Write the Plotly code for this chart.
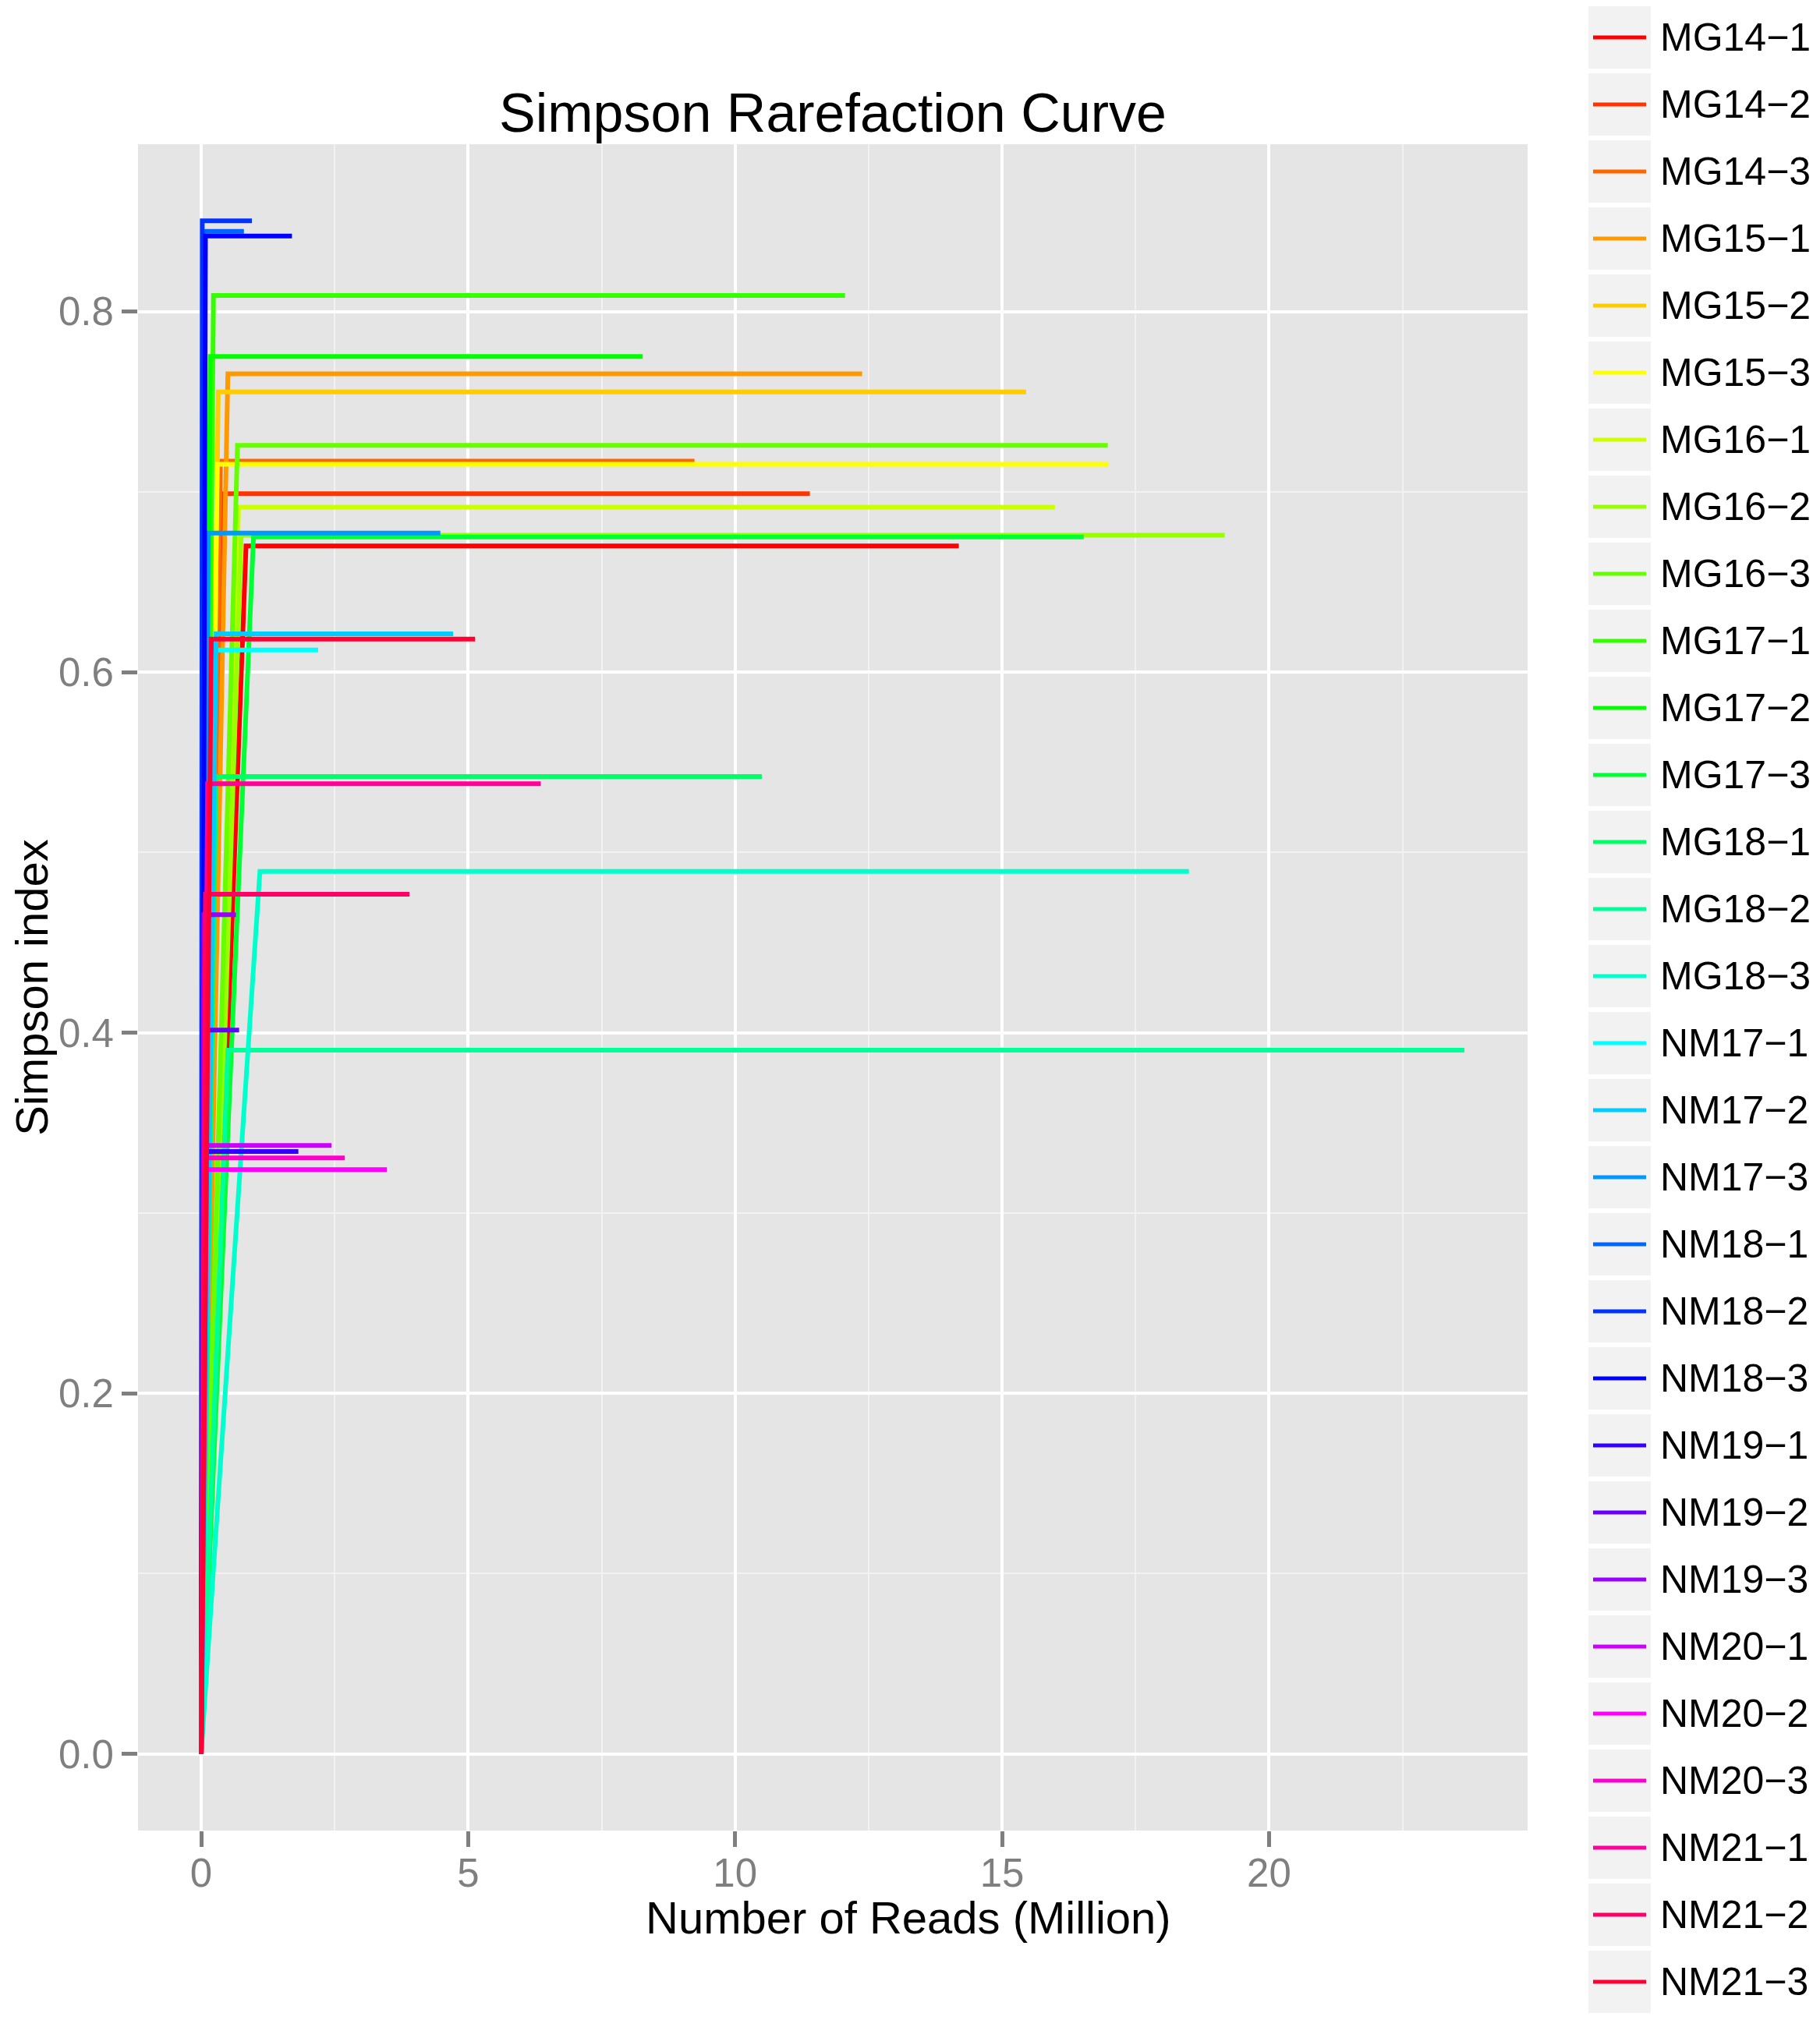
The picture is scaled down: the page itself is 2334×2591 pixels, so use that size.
import colorsys
import plotly.graph_objects as go

# sample names, in legend order
samples = ["MG14-1", "MG14-2", "MG14-3", "MG15-1", "MG15-2", "MG15-3",
           "MG16-1", "MG16-2", "MG16-3", "MG17-1", "MG17-2", "MG17-3",
           "MG18-1", "MG18-2", "MG18-3", "NM17-1", "NM17-2", "NM17-3",
           "NM18-1", "NM18-2", "NM18-3", "NM19-1", "NM19-2", "NM19-3",
           "NM20-1", "NM20-2", "NM20-3", "NM21-1", "NM21-2", "NM21-3"]

# reads (million) where the curve levels off
knee_reads = [0.84, 0.40, 0.36, 0.50, 0.32, 0.30,
              0.70, 0.75, 0.68, 0.23, 0.17, 0.98,
              0.28, 0.50, 1.10, 0.13, 0.28, 0.13,
              0.05, 0.02, 0.08, 0.06, 0.06, 0.05,
              0.08, 0.10, 0.08, 0.12, 0.08, 0.19]

# total reads (million) per sample
max_reads = [14.19, 11.40, 9.24, 12.38, 15.45, 16.99,
             15.99, 19.17, 16.98, 12.06, 8.27, 16.53,
             10.50, 23.66, 18.50, 2.19, 4.72, 4.48,
             0.80, 0.95, 1.70, 1.82, 0.71, 0.65,
             2.44, 3.48, 2.69, 6.36, 3.90, 5.13]

# Simpson index at the plateau
simpson = [0.670, 0.699, 0.717, 0.7655, 0.7554, 0.7153,
           0.6915, 0.676, 0.7258, 0.8089, 0.7751, 0.675,
           0.5421, 0.3903, 0.4895, 0.6123, 0.6212, 0.6771,
           0.8445, 0.8503, 0.8419, 0.3341, 0.4015, 0.4655,
           0.3375, 0.3241, 0.3306, 0.5381, 0.4768, 0.6183]

x_ticks = [0, 5, 10, 15, 20]
y_ticks = [0.0, 0.2, 0.4, 0.6, 0.8]

OFF = 8                      # page margin of the html body
W, H = 2334 - OFF, 2591 - OFF
L, R, T, B = 177, 1959, 185, 2348   # panel box in window pixels
FONT = "Liberation Sans"
GREY = "#7F7F7F"


def rainbow(n):
    # same as R's rainbow(n)
    out = []
    for i in range(n):
        r, g, b = colorsys.hsv_to_rgb(i / n, 1, 1)
        out.append("#%02X%02X%02X" % (round(r * 255), round(g * 255), round(b * 255)))
    return out


def px(x):
    return (x - L) / (R - L)


def py(y):
    return (B - y) / (B - T)


colors = rainbow(len(samples))

fig = go.Figure()
for name, kx, mx, s, c in zip(samples, knee_reads, max_reads, simpson, colors):
    fig.add_trace(go.Scatter(
        x=[0, kx, mx], y=[0, s, s],
        mode="lines", name=name.replace("-", "\u2212"),
        line=dict(color=c, width=6),
        showlegend=False
    ))

# ggplot style 5% expansion
xmax = max(max_reads)
ymax = max(simpson)
xr = [-0.05 * xmax, xmax * 1.05]
yr = [-0.05 * ymax, ymax * 1.05]

axis_common = dict(
    showgrid=True, gridcolor="white", gridwidth=4,
    zeroline=False, showline=False,
    ticks="outside", ticklen=20, tickwidth=5, tickcolor=GREY,
    tickfont=dict(family=FONT, size=51, color=GREY),
)

fig.update_xaxes(
    range=xr, tickvals=x_ticks,
    minor=dict(dtick=2.5, tick0=0, showgrid=True, gridcolor="#F2F2F2", gridwidth=2, ticks=""),
    ticklabelstandoff=-10,
    **axis_common
)
fig.update_yaxes(
    range=yr, tickvals=y_ticks, tickformat=".1f",
    minor=dict(dtick=0.1, tick0=0, showgrid=True, gridcolor="#F2F2F2", gridwidth=2, ticks=""),
    title=dict(text="Simpson index", font=dict(family=FONT, size=58, color="black"), standoff=19),
    ticklabelstandoff=0,
    **axis_common
)

# legend drawn by hand so the key boxes look like ggplot's
shapes = []
annotations = []
pitch = 86
for i, (name, c) in enumerate(zip(samples, colors)):
    top = 8 + pitch * i
    mid = top + 40
    shapes.append(dict(type="rect", xref="paper", yref="paper",
                       x0=px(2037), x1=px(2117), y0=py(top + 80), y1=py(top),
                       fillcolor="#F2F2F2", line=dict(width=0), layer="below"))
    shapes.append(dict(type="line", xref="paper", yref="paper",
                       x0=px(2043), x1=px(2111), y0=py(mid), y1=py(mid),
                       line=dict(color=c, width=5)))
    annotations.append(dict(text=name.replace("-", "\u2212"), xref="paper", yref="paper",
                            x=px(2127), y=py(mid), xanchor="left", yanchor="middle",
                            showarrow=False, font=dict(family=FONT, size=50, color="black")))

# x axis title sits a bit right of the panel centre in the original
annotations.append(dict(text="Number of Reads (Million)", xref="paper", yref="paper",
                        x=px(1165), y=py(2459), xanchor="center", yanchor="middle",
                        showarrow=False, font=dict(family=FONT, size=58, color="black")))

fig.update_layout(
    width=W, height=H,
    margin=dict(l=L - OFF, r=W + OFF - R, t=T - OFF, b=H + OFF - B, autoexpand=False),
    paper_bgcolor="white", plot_bgcolor="#E5E5E5",
    title=dict(text="Simpson Rarefaction Curve", x=0.5, xref="paper", xanchor="center",
               y=1 - (144 - OFF) / H, yanchor="middle", yref="container",
               font=dict(family=FONT, size=70, color="black")),
    shapes=shapes, annotations=annotations,
    showlegend=False,
)

fig.write_html("out.html")
